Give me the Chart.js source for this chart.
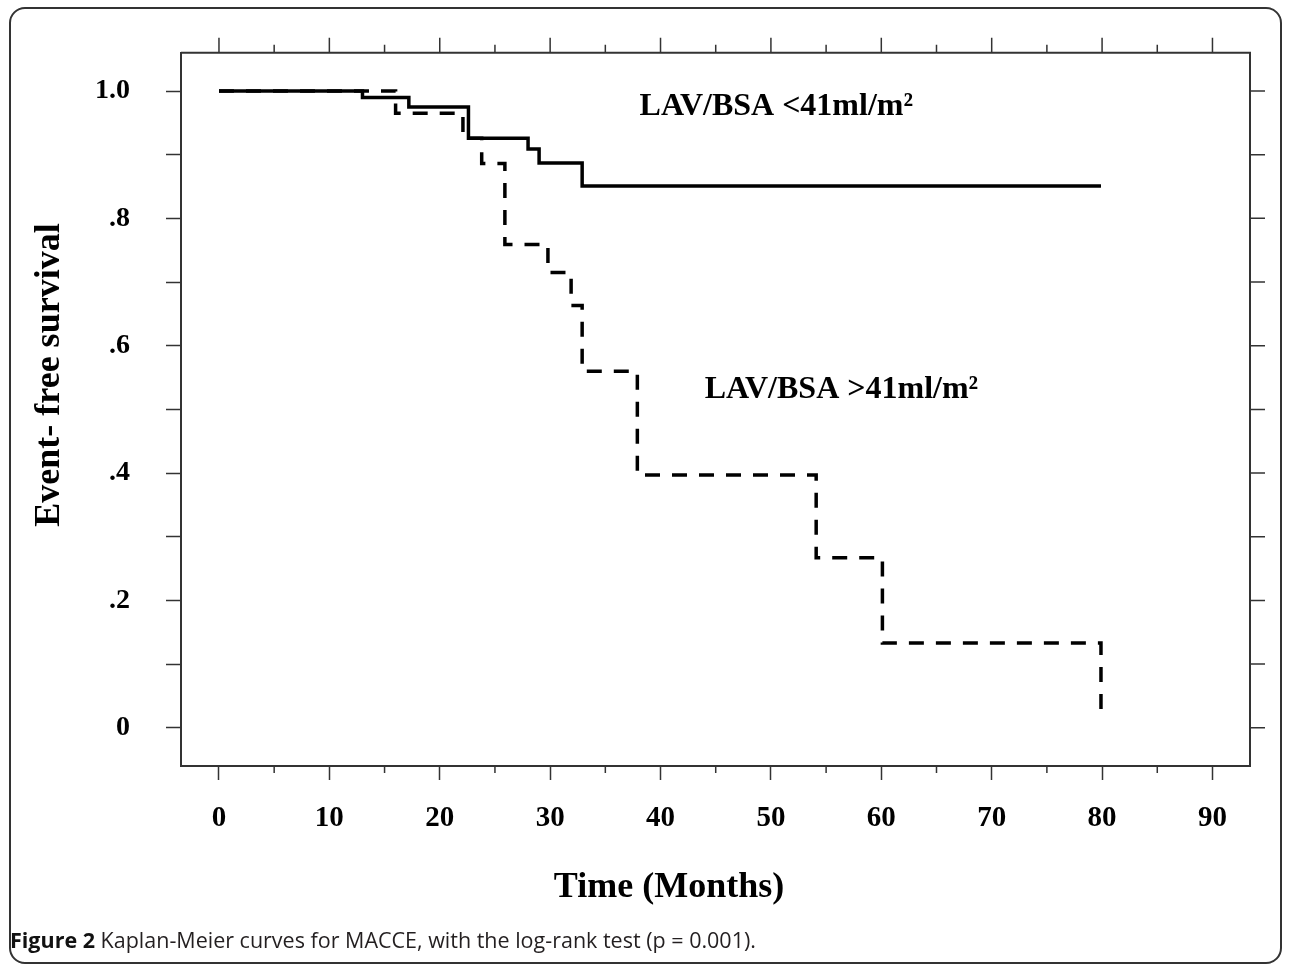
<!DOCTYPE html>
<html>
<head>
<meta charset="utf-8">
<script src="https://cdn.jsdelivr.net/npm/chart.js@4.4.0/dist/chart.umd.min.js"></script>
<style>
  html, body { margin: 0; padding: 0; background: #fff; }
  #wrap { position: relative; width: 1290px; height: 966px; overflow: hidden; }
  #frame { position: absolute; left: 9px; top: 7px; width: 1273px; height: 957px; border: 2px solid #333; border-radius: 16px; box-sizing: border-box; }
  #grafico { position: absolute; left: 0; top: 0; }
  #caption { position: absolute; left: 10px; top: 925px; font-family: "Open Sans", sans-serif; font-size: 21.5px; color: #231f20; white-space: nowrap; }
  #caption b { color: #111; }
</style>
</head>
<body>
<div id="wrap">
  <div id="frame"></div>
  <canvas id="grafico" width="1290" height="966"></canvas>
  <div id="caption"><b>Figure 2</b> Kaplan-Meier curves for MACCE, with the log-rank test (p = 0.001).</div>
</div>
<script>
// curva LAV/BSA <41ml/m2 (linha continua)
const tempoMenor = [0, 13, 17.2, 22.6, 28, 29, 32.9, 79.9];
const sobrevMenor = [1.0, 0.99, 0.975, 0.926, 0.909, 0.887, 0.851, 0.851];

// curva LAV/BSA >41ml/m2 (linha tracejada)
const tempoMaior = [0, 16, 22.1, 23.8, 25.9, 29.8, 31.9, 32.9, 37.9, 54.1, 60.1, 79.9];
const sobrevMaior = [1.0, 0.965, 0.926, 0.886, 0.759, 0.715, 0.663, 0.56, 0.397, 0.267, 0.133, 0.017];

const xTicks = [0, 10, 20, 30, 40, 50, 60, 70, 80, 90];
const xMinorTicks = [5, 15, 25, 35, 45, 55, 65, 75, 85];
const yTicks = [0, 0.1, 0.2, 0.3, 0.4, 0.5, 0.6, 0.7, 0.8, 0.9, 1.0];
const yLabelValues = [0, 0.2, 0.4, 0.6, 0.8, 1.0];
const yLabelText = ["0", ".2", ".4", ".6", ".8", "1.0"];

const tituloX = "Time (Months)";
const tituloY = "Event- free survival";
const rotuloMenor = "LAV/BSA <41ml/m\u00b2";
const rotuloMaior = "LAV/BSA >41ml/m\u00b2";

const serif = "'Liberation Serif', 'Times New Roman', serif";
const corEixo = "#333";

function pontos(tempos, valores) {
  return tempos.map((t, i) => ({ x: t, y: valores[i] }));
}

// moldura, ticks extras, titulos e rotulos
const extras = {
  id: "extras",
  afterDraw(chart) {
    const ctx = chart.ctx;
    const area = chart.chartArea;
    const x = chart.scales.x;
    const y = chart.scales.y;
    ctx.save();
    ctx.strokeStyle = corEixo;
    ctx.lineWidth = 2;
    ctx.beginPath();
    ctx.moveTo(area.left, area.top);
    ctx.lineTo(area.right, area.top);
    ctx.lineTo(area.right, area.bottom);
    ctx.stroke();

    // ticks de cima
    ctx.lineWidth = 1.5;
    ctx.beginPath();
    xTicks.forEach((v) => {
      const px = x.getPixelForValue(v);
      ctx.moveTo(px, area.top);
      ctx.lineTo(px, area.top - 15);
    });
    xMinorTicks.forEach((v) => {
      const px = x.getPixelForValue(v);
      ctx.moveTo(px, area.top);
      ctx.lineTo(px, area.top - 8);
      ctx.moveTo(px, area.bottom);
      ctx.lineTo(px, area.bottom + 7);
    });
    // ticks da direita
    yTicks.forEach((v) => {
      const py = y.getPixelForValue(v);
      ctx.moveTo(area.right, py);
      ctx.lineTo(area.right + 15, py);
    });
    ctx.stroke();

    ctx.fillStyle = "#000";
    ctx.font = "bold 36px " + serif;
    ctx.textAlign = "center";
    ctx.textBaseline = "middle";
    ctx.fillText(tituloX, 669, 888);
    ctx.save();
    ctx.translate(50, 375);
    ctx.rotate(-Math.PI / 2);
    ctx.fillText(tituloY, 0, 0);
    ctx.restore();

    ctx.font = "bold 32px " + serif;
    ctx.textAlign = "left";
    ctx.textBaseline = "alphabetic";
    ctx.fillText(rotuloMenor, x.getPixelForValue(38.1), y.getPixelForValue(0.962));
    ctx.fillText(rotuloMaior, x.getPixelForValue(44.0), y.getPixelForValue(0.518));
    ctx.restore();
  },
};

const grafico = document.querySelector("#grafico");

const myGrafico = new Chart(grafico, {
  type: "line",
  data: {
    datasets: [
      {
        label: rotuloMenor,
        data: pontos(tempoMenor, sobrevMenor),
        borderColor: "#000",
        borderWidth: 3.5,
        stepped: true,
        pointRadius: 0,
        fill: false,
      },
      {
        label: rotuloMaior,
        data: pontos(tempoMaior, sobrevMaior),
        borderColor: "#000",
        borderWidth: 3.5,
        borderDash: [15, 12],
        stepped: true,
        pointRadius: 0,
        fill: false,
      },
    ],
  },
  options: {
    responsive: false,
    animation: false,
    devicePixelRatio: 1,
    layout: { padding: { top: 52, right: 40, left: 0, bottom: 0 } },
    plugins: {
      legend: { display: false },
      tooltip: { enabled: false },
    },
    scales: {
      x: {
        type: "linear",
        position: "bottom",
        min: -3.44,
        max: 93.4,
        afterFit: (scale) => { scale.height = 200; },
        afterBuildTicks: (scale) => { scale.ticks = xTicks.map((v) => ({ value: v })); },
        grid: { drawOnChartArea: false, drawTicks: true, tickLength: 14, tickColor: corEixo, tickWidth: 1.5 },
        border: { display: true, color: corEixo, width: 2 },
        ticks: {
          padding: 21,
          color: "#000",
          font: { family: serif, size: 29, weight: "bold" },
          maxRotation: 0,
          autoSkip: false,
        },
      },
      y: {
        type: "linear",
        position: "left",
        min: -0.06,
        max: 1.06,
        afterFit: (scale) => { scale.width = 181; },
        afterBuildTicks: (scale) => { scale.ticks = yTicks.map((v) => ({ value: v })); },
        grid: { drawOnChartArea: false, drawTicks: true, tickLength: 15, tickColor: corEixo, tickWidth: 1.5 },
        border: { display: true, color: corEixo, width: 2 },
        ticks: {
          padding: 36,
          color: "#000",
          font: { family: serif, size: 28, weight: "bold" },
          autoSkip: false,
          callback: (value) => {
            const i = yLabelValues.findIndex((v) => Math.abs(v - value) < 1e-6);
            return i >= 0 ? yLabelText[i] : "";
          },
        },
      },
    },
  },
  plugins: [extras],
});
</script>
</body>
</html>
